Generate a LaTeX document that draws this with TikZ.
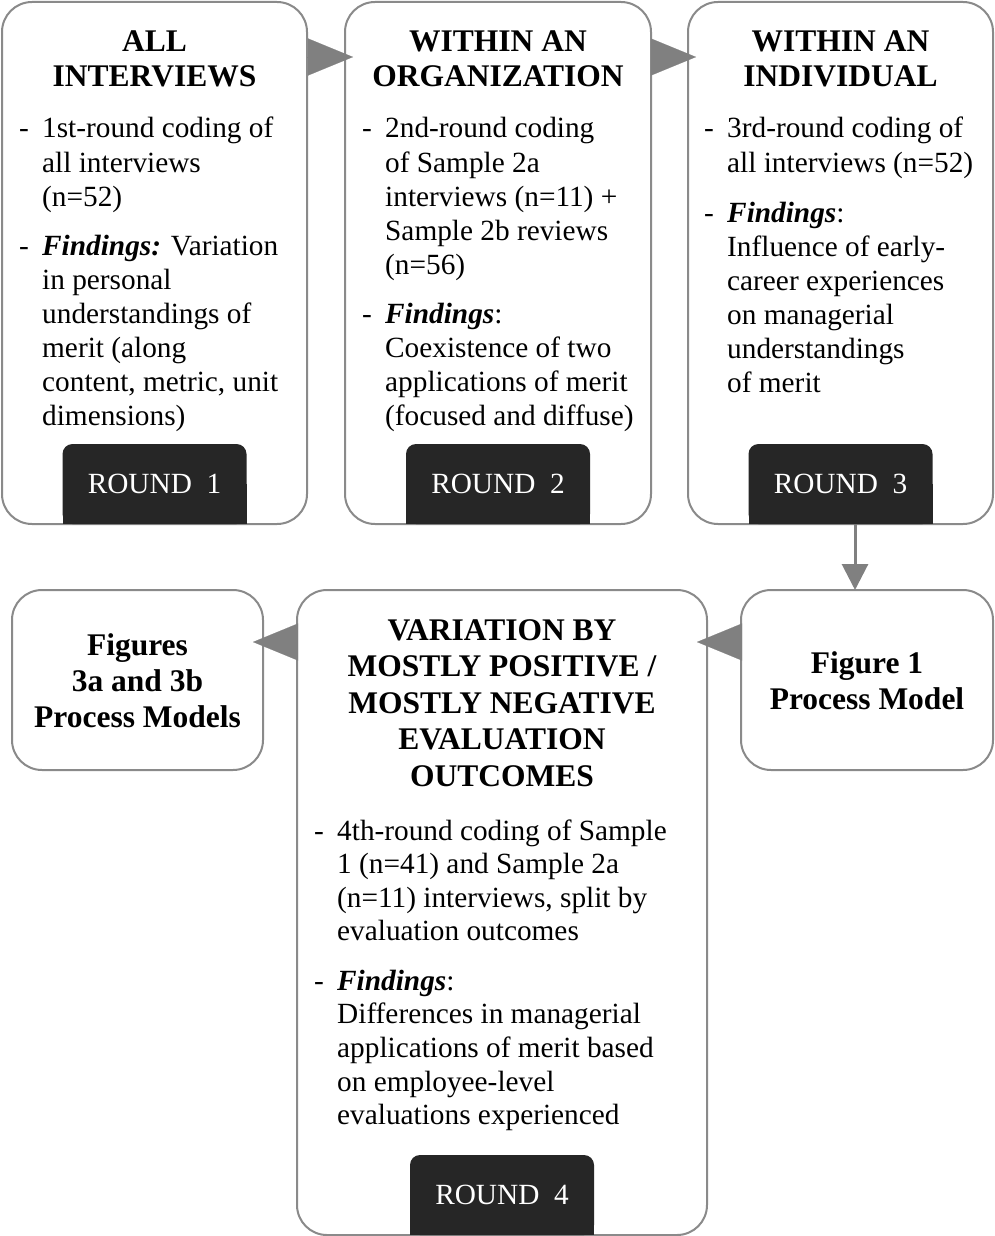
\documentclass[tikz,border=0pt]{standalone}
\usepackage{fontspec}
\setmainfont{Liberation Serif}
\usetikzlibrary{arrows.meta}
\definecolor{boxgray}{HTML}{8A8A8A}
\definecolor{arrgray}{HTML}{808080}
\definecolor{tabdark}{HTML}{262626}
\newcommand\bodyfnt{\fontsize{29.3}{34}\selectfont}
\newcommand\headfnt{\fontsize{31.5}{36}\selectfont\bfseries}
\newcommand\putlines[6]{%
  \foreach \t [count=\i from 0] in {#6} {\node[#2] (#1\i) at (#3, {#4+\i*#5}) {\t};}}
\tikzset{
  box/.style={draw=boxgray, line width=2pt, rounded corners=30pt, fill=white,
    outer sep=0pt, inner sep=0pt, anchor=north west},
  body/.style={font=\bodyfnt, anchor=base west, inner sep=0pt},
  head/.style={font=\headfnt, anchor=base, inner sep=0pt},
  tab/.style={fill=tabdark, text=white, rounded corners=10pt, font=\bodyfnt,
    minimum width=184pt, minimum height=80pt, anchor=south, inner sep=0pt, outer sep=0pt},
  conn/.style={color=arrgray, line width=0.1pt, -{Triangle[length=45pt, width=37pt]}},
  down/.style={color=arrgray, line width=3pt, -{Triangle[length=26pt, width=26pt]}},
}
\begin{document}
\begin{tikzpicture}[x=1pt, y=-1pt]
\useasboundingbox (0,0) rectangle (994,1236);
% boxes
\node[box, minimum width=305pt, minimum height=522pt] (b1) at (2,2) {};
\node[box, minimum width=306pt, minimum height=522pt] (b2) at (345,2) {};
\node[box, minimum width=305pt, minimum height=522pt] (b3) at (688,2) {};
\node[box, minimum width=251pt, minimum height=180pt] (b4) at (12,590) {};
\node[box, minimum width=410pt, minimum height=645pt] (b5) at (297,590) {};
\node[box, minimum width=252pt, minimum height=180pt] (b6) at (741,590) {};
% connectors
\draw[conn] ([yshift=-55pt]b1.north east) -- ([yshift=-55pt, xshift=8pt]b2.north west);
\draw[conn] ([yshift=-55pt]b2.north east) -- ([yshift=-55pt, xshift=8pt]b3.north west);
\draw[conn] ([yshift=-52pt]b6.north west) -- ([yshift=-52pt, xshift=-10pt]b5.north east);
\draw[conn] ([yshift=-52pt]b5.north west) -- ([yshift=-52pt, xshift=-10pt]b4.north east);
\draw[down] ([xshift=14.5pt]b3.south) -- ([xshift=14.5pt]b3.south |- b6.north);
% round tabs
\foreach \b/\n in {b1/1, b2/2, b3/3, b5/4} {
  \fill[tabdark] ([xshift=-92pt]\b.south) rectangle ([xshift=92pt, yshift=40pt]\b.south);
  \node[tab] (r\n) at (\b.south) {ROUND~~\n};
}
% box 1
\putlines{h1}{head}{154.5}{52}{35}{ALL, INTERVIEWS}
\node[body] (d1a) at (19,138) {-};
\putlines{t1a}{body}{42}{138}{34}{1st-round coding of, all interviews, (n=52)}
\node[body] (d1b) at (19,255) {-};
\putlines{t1b}{body}{42}{255}{34}{{\textbf{\textit{Findings:}} Variation}, in personal, understandings of, merit (along, {content, metric, unit}, dimensions)}
% box 2
\putlines{h2}{head}{498}{52}{35}{WITHIN AN, ORGANIZATION}
\node[body] (d2a) at (362,138) {-};
\putlines{t2a}{body}{385}{138}{34}{2nd-round coding, of Sample 2a, interviews (n=11) +, Sample 2b reviews, (n=56)}
\node[body] (d2b) at (362,323) {-};
\putlines{t2b}{body}{385}{323}{34}{{\textbf{\textit{Findings}}:}, Coexistence of two, applications of merit, (focused and diffuse)}
% box 3
\putlines{h3}{head}{840.5}{52}{35}{WITHIN AN, INDIVIDUAL}
\node[body] (d3a) at (704,138) {-};
\putlines{t3a}{body}{727}{138}{34}{3rd-round coding of, all interviews (n=52)}
\node[body] (d3b) at (704,222) {-};
\putlines{t3b}{body}{727}{222}{34}{{\textbf{\textit{Findings}}:}, Influence of early-, career experiences, on managerial, understandings, of merit}
% box 4
\putlines{h4}{head}{137.5}{655}{36}{Figures, 3a and 3b, Process Models}
% box 6
\putlines{h6}{head}{867}{673}{36}{Figure 1, Process Model}
% box 5
\putlines{h5}{head}{502}{640}{36.5}{VARIATION BY, MOSTLY POSITIVE /, MOSTLY NEGATIVE, EVALUATION, OUTCOMES}
\node[body] (d5a) at (314,840) {-};
\putlines{t5a}{body}{337}{840}{33.5}{4th-round coding of Sample, 1 (n=41) and Sample 2a, {(n=11) interviews, split by}, evaluation outcomes}
\node[body] (d5b) at (314,990) {-};
\putlines{t5b}{body}{337}{990}{33.7}{{\textbf{\textit{Findings}}:}, Differences in managerial, applications of merit based, on employee-level, evaluations experienced}
\end{tikzpicture}
\end{document}
